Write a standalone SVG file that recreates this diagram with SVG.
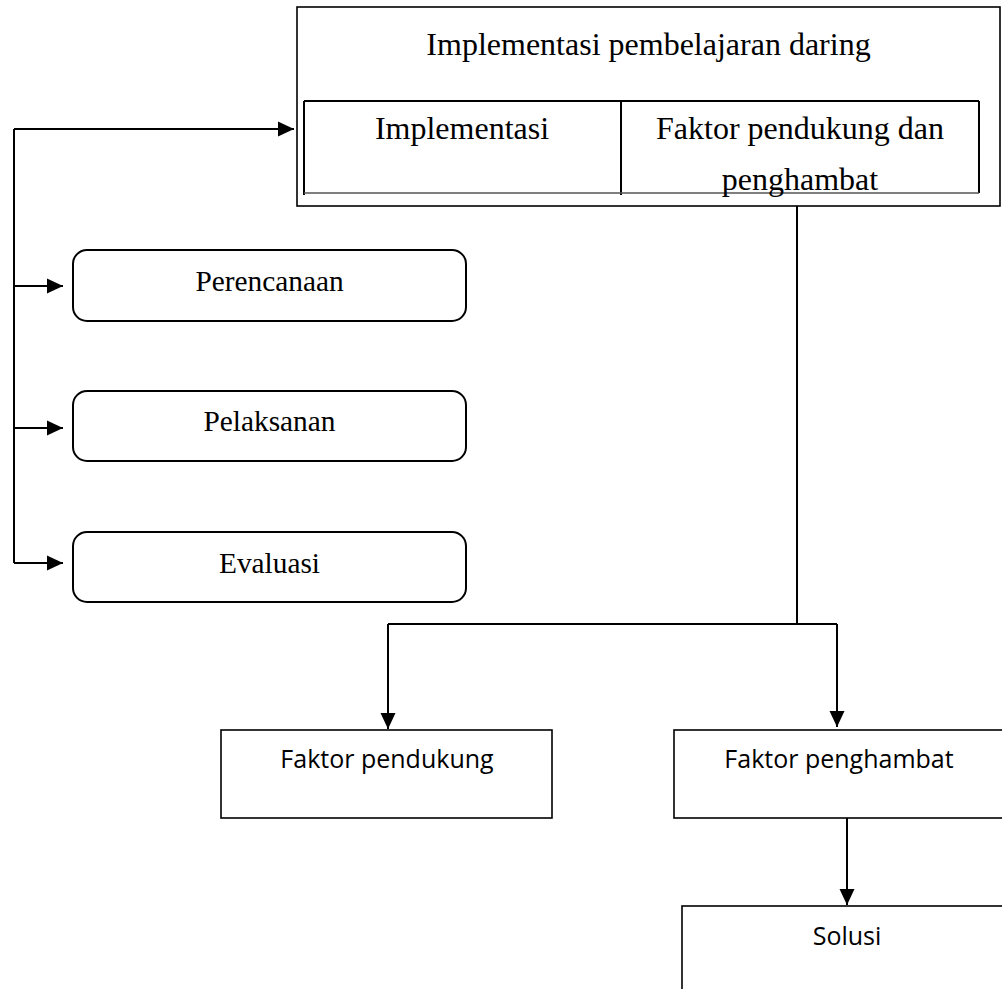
<svg xmlns="http://www.w3.org/2000/svg" width="1002" height="989" viewBox="0 0 1002 989">
<style>
.serif{font-family:"Liberation Serif","Times New Roman",serif;fill:#000;text-anchor:middle}
.t32{font-size:32px}
.t29{font-size:29.33px}
.sans{font-family:"Open Sans","Liberation Sans",sans-serif;font-size:25px;fill:#000;text-anchor:middle}
.box{fill:#fff;stroke:#000;stroke-width:1.6}
.rbox{fill:#fff;stroke:#000;stroke-width:2}
.ln{fill:none;stroke:#000;stroke-width:2}
.conn{fill:none;stroke:#000;stroke-width:2}
</style>
<defs>
<marker id="ah" markerUnits="userSpaceOnUse" markerWidth="16" markerHeight="16" viewBox="0 0 16 16" refX="16" refY="8" orient="auto">
<path d="M0,0.5 L16,8 L0,15.5 Z" fill="#000"/>
</marker>
</defs>
<rect width="1002" height="989" fill="#fff"/>

<g id="connectors">
<path class="conn" d="M14,129 V563"/>
<path class="conn" d="M14,129 H294" marker-end="url(#ah)"/>
<path class="conn" d="M14,286 H63" marker-end="url(#ah)"/>
<path class="conn" d="M14,428 H63" marker-end="url(#ah)"/>
<path class="conn" d="M14,563 H63" marker-end="url(#ah)"/>
<path class="conn" d="M797,206 V624"/>
<path class="conn" d="M388,624 H837"/>
<path class="conn" d="M388,624 V729" marker-end="url(#ah)"/>
<path class="conn" d="M837,624 V727" marker-end="url(#ah)"/>
<path class="conn" d="M847,818 V905" marker-end="url(#ah)"/>
</g>

<g id="implementasi-pembelajaran-daring">
<rect class="box" x="297" y="7" width="703" height="199"/>
<text class="serif t32" x="648.5" y="55">Implementasi pembelajaran daring</text>
<path class="ln" d="M304,101 H979 M304,101 V195 M979,101 V193 M621,101 V195"/>
<path d="M304,193 H979" stroke="#555" stroke-width="1.5"/>
<text class="serif t32" x="462" y="139">Implementasi</text>
<text class="serif t32" x="800" y="139">Faktor pendukung dan</text>
<text class="serif t32" x="800" y="190">penghambat</text>
</g>

<g id="perencanaan">
<rect class="rbox" x="73" y="250" width="393" height="71" rx="14"/>
<text class="serif t29" x="269.5" y="291">Perencanaan</text>
</g>

<g id="pelaksanan">
<rect class="rbox" x="73" y="391" width="393" height="70" rx="14"/>
<text class="serif t29" x="269.5" y="431">Pelaksanan</text>
</g>

<g id="evaluasi">
<rect class="rbox" x="73" y="532" width="393" height="70" rx="14"/>
<text class="serif t29" x="269.5" y="573">Evaluasi</text>
</g>

<g id="faktor-pendukung">
<rect class="box" x="221" y="730" width="331" height="88"/>
<text class="sans" x="387" y="768">Faktor pendukung</text>
</g>

<g id="faktor-penghambat">
<rect class="box" x="674" y="730" width="340" height="88"/>
<text class="sans" x="839" y="768">Faktor penghambat</text>
</g>

<g id="solusi">
<rect class="box" x="682" y="906" width="340" height="100"/>
<text class="sans" x="847" y="945">Solusi</text>
</g>
</svg>
